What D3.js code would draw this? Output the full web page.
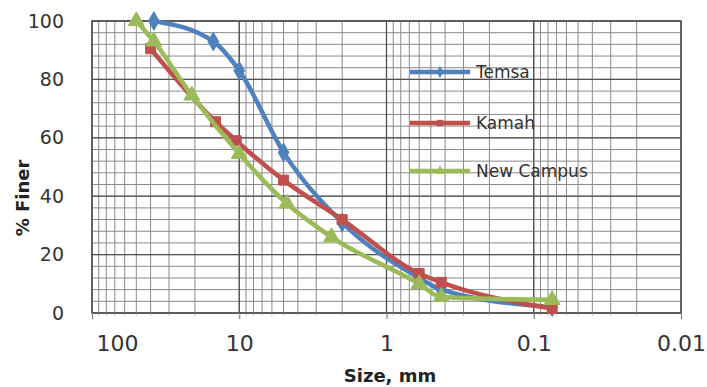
<!DOCTYPE html>
<html>
<head>
<meta charset="utf-8">
<script src="https://cdn.jsdelivr.net/npm/d3@7/dist/d3.min.js"></script>
<style>
  html, body { margin: 0; padding: 0; background: #fff; }
  svg { display: block; }
</style>
</head>
<body>
<svg id="chart" width="707" height="387"></svg>
<script>
// ---- data ----
const seriesNames = ["Temsa", "Kamah", "New Campus"];
const temsaSize   = [38, 15, 10, 5, 2, 0.6, 0.425, 0.075];
const temsaFiner  = [100, 93, 83, 55, 31, 12, 8, 2];
const kamahSize   = [40, 14.5, 10.5, 5, 2, 0.6, 0.425, 0.075];
const kamahFiner  = [90.5, 65.5, 59, 45.5, 32, 13.5, 10.5, 1.5];
const campusSize  = [50, 38, 21, 10, 4.75, 2.36, 0.6, 0.425, 0.075];
const campusFiner = [100, 93, 74.5, 54.5, 37.5, 26, 10, 5.5, 4.5];
const xTickLabels = ["100", "10", "1", "0.1", "0.01"];
const yTickLabels = ["0", "20", "40", "60", "80", "100"];

const colors = ["#4F81BD", "#C0504D", "#9BBB59"];
const markers = [d3.symbolDiamond, d3.symbolSquare, d3.symbolTriangle];

const svg = d3.select("#chart");
const x = d3.scaleLog().domain([100, 0.01]).range([92, 681]);
const y = d3.scaleLinear().domain([0, 100]).range([313, 21]);

// ---- gridlines ----
const grid = svg.append("g");
const minorX = x.ticks();
const majorX = xTickLabels.map(Number);
const minorY = d3.range(0, 101, 4);
const majorY = yTickLabels.map(Number);

grid.selectAll(".mx").data(minorX).join("line")
  .attr("x1", d => x(d)).attr("x2", d => x(d))
  .attr("y1", y(0)).attr("y2", y(100))
  .attr("stroke", "#8a8a8a").attr("stroke-width", 1);
grid.selectAll(".my").data(minorY).join("line")
  .attr("x1", x(100)).attr("x2", x(0.01))
  .attr("y1", d => y(d)).attr("y2", d => y(d))
  .attr("stroke", "#8a8a8a").attr("stroke-width", 1);
grid.selectAll(".Mx").data(majorX).join("line")
  .attr("x1", d => x(d)).attr("x2", d => x(d))
  .attr("y1", y(0)).attr("y2", y(100))
  .attr("stroke", "#505050").attr("stroke-width", 1.3);
grid.selectAll(".My").data(majorY).join("line")
  .attr("x1", x(100)).attr("x2", x(0.01))
  .attr("y1", d => y(d)).attr("y2", d => y(d))
  .attr("stroke", "#505050").attr("stroke-width", 1.3);

// ---- axes ----
const xAxis = d3.axisBottom(x).tickValues(majorX).tickSize(6).tickFormat((d, i) => xTickLabels[i]);
const gx = svg.append("g").attr("transform", `translate(0,${y(0)})`).call(xAxis);
gx.select(".domain").attr("stroke", "#666");
gx.selectAll(".tick line").attr("stroke", "#666");
gx.selectAll(".tick text")
  .attr("font-family", "DejaVu Sans, sans-serif").attr("font-size", 22)
  .attr("fill", "#333").attr("dy", "1.3em");
// first label kept inside the chart like the original
gx.selectAll(".tick text").filter(d => d === 100).attr("dx", 25);

// minor x ticks below axis
svg.append("g").selectAll("line").data(minorX).join("line")
  .attr("x1", d => x(d)).attr("x2", d => x(d))
  .attr("y1", y(0)).attr("y2", y(0) + 3)
  .attr("stroke", "#bbb");

const yAxis = d3.axisLeft(y).tickValues(majorY).tickSize(0).tickPadding(28).tickFormat((d, i) => yTickLabels[i]);
const gy = svg.append("g").attr("transform", `translate(${x(100)},0)`).call(yAxis);
gy.select(".domain").remove();
gy.selectAll(".tick text")
  .attr("font-family", "DejaVu Sans, sans-serif").attr("font-size", 19)
  .attr("fill", "#333");

// plot border
svg.append("rect")
  .attr("x", x(100)).attr("y", y(100))
  .attr("width", x(0.01) - x(100)).attr("height", y(0) - y(100))
  .attr("fill", "none").attr("stroke", "#555").attr("stroke-width", 1.3);

// ---- series ----
const series = [
  { name: seriesNames[0], sizes: temsaSize, finer: temsaFiner },
  { name: seriesNames[1], sizes: kamahSize, finer: kamahFiner },
  { name: seriesNames[2], sizes: campusSize, finer: campusFiner }
];
const line = d3.line().x(d => x(d[0])).y(d => y(d[1])).curve(d3.curveMonotoneX);

series.forEach((s, i) => {
  const pts = s.sizes.map((v, k) => [v, s.finer[k]]);
  const g = svg.append("g");
  g.append("path").datum(pts)
    .attr("d", line).attr("fill", "none")
    .attr("stroke", colors[i]).attr("stroke-width", 4.5)
    .attr("stroke-linejoin", "round").attr("stroke-linecap", "round");
  g.selectAll("path.m").data(pts).join("path").attr("class", "m")
    .attr("transform", d => `translate(${x(d[0])},${y(d[1])})`)
    .attr("d", d3.symbol().type(markers[i]).size(i === 2 ? 110 : 100))
    .attr("fill", colors[i]).attr("stroke", colors[i]).attr("stroke-width", 1);
});

// ---- legend ----
const legendY = [72, 123, 171];
const lg = svg.append("g");
series.forEach((s, i) => {
  lg.append("line")
    .attr("x1", 410).attr("x2", 470).attr("y1", legendY[i]).attr("y2", legendY[i])
    .attr("stroke", colors[i]).attr("stroke-width", 4.5);
  lg.append("path")
    .attr("transform", `translate(440,${legendY[i]})`)
    .attr("d", d3.symbol().type(markers[i]).size(40))
    .attr("fill", colors[i]);
  lg.append("text")
    .attr("x", 476).attr("y", legendY[i]).attr("dy", "0.35em")
    .attr("font-family", "DejaVu Sans, sans-serif").attr("font-size", 17)
    .attr("fill", "#333").text(s.name);
});

// ---- axis titles ----
svg.append("text")
  .attr("transform", "translate(29,198) rotate(-90)")
  .attr("text-anchor", "middle")
  .attr("font-family", "DejaVu Sans, sans-serif").attr("font-weight", "bold")
  .attr("font-size", 18).attr("fill", "#222").text("% Finer");
svg.append("text")
  .attr("x", 390).attr("y", 382)
  .attr("text-anchor", "middle")
  .attr("font-family", "DejaVu Sans, sans-serif").attr("font-weight", "bold")
  .attr("font-size", 18).attr("fill", "#222").text("Size, mm");
</script>
</body>
</html>
